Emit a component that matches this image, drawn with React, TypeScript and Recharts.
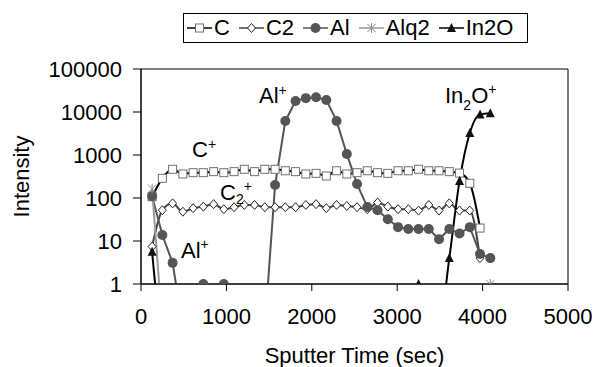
import { LineChart, Line, XAxis, YAxis, ReferenceArea, Label } from 'recharts';

// sputter time of each scan (sec)
const times = [
  130, 250, 370, 490, 610, 730, 850, 970, 1090, 1210, 1330, 1450, 1570, 1690, 1810, 1930, 2050,
  2170, 2290, 2410, 2530, 2650, 2770, 2890, 3010, 3130, 3250, 3370, 3490, 3610, 3730, 3850, 3970, 4090
];

// 0.1 = below detection (off the bottom of the log axis)
const cVals = [
  107, 287, 465, 362, 388, 388, 410, 388, 410, 465, 410, 465, 465, 430, 410, 362, 374,
  325, 430, 362, 388, 430, 388, 374, 430, 430, 465, 430, 430, 410, 380, 220, 20, null
];
const c2Vals = [
  7.4, 52, 75, 48, 58, 63, 72, 55, 61, 69, 69, 61, 61, 61, 61, 69, 72,
  58, 69, 65, 61, 55, 78, 63, 55, 55, 51, 69, 51, 75, 51, 51, 4, null
];
const alVals = [
  110, 13.8, 3.1, 0.1, 0.1, 1, 0.1, 1, 0.1, 0.1, 0.1, 0.1, 200, 6200, 18000, 21000, 22000,
  19000, 6200, 1050, 211, 62, 52, 32, 21, 19, 19, 19, 11, 19, 15, 21, 5, 4
];
const alq2Vals = [
  165, 0.1, 0.1, 0.1, 0.1, 0.1, 0.1, 0.1, 0.1, 0.1, 0.1, 0.1, 0.1, 0.1, 0.1, 0.1, 0.1,
  0.1, 0.1, 0.1, 0.1, 0.1, 0.1, 0.1, 0.1, 0.1, 0.1, 0.1, 0.1, 0.1, 0.1, 0.1, 0.1, 1
];
const in2oVals = [
  5.6, 0.1, 0.1, 0.1, 0.1, 0.1, 0.1, 0.1, 0.1, 0.1, 0.1, 0.1, 0.1, 0.1, 0.1, 0.1, 0.1,
  0.1, 0.1, 0.1, 0.1, 0.1, 0.1, 0.1, 0.1, 0.1, 1, 0.1, 0.1, 4, 250, 3240, 8800, 9300
];

const xTicks = [0, 1000, 2000, 3000, 4000, 5000];
const yTicks = [1, 10, 100, 1000, 10000, 100000];

const data = times.map((t, i) => ({
  t,
  C: cVals[i],
  C2: c2Vals[i],
  Al: alVals[i],
  Alq2: alq2Vals[i],
  In2O: in2oVals[i]
}));

const FONT = '"Liberation Sans", Arial, sans-serif';

type Mark = 'square' | 'diamond' | 'circle' | 'star' | 'triangle';

function Marker({ kind, cx, cy }: { kind: Mark; cx: number; cy: number }) {
  if (kind === 'square')
    return <rect x={cx - 4} y={cy - 4} width={8} height={8} fill="#fff" stroke="#707070" strokeWidth={1} />;
  if (kind === 'diamond')
    return (
      <polygon
        points={`${cx},${cy - 4.5} ${cx + 4},${cy} ${cx},${cy + 4.5} ${cx - 4},${cy}`}
        fill="#fff"
        stroke="#222"
        strokeWidth={1}
      />
    );
  if (kind === 'circle') return <circle cx={cx} cy={cy} r={5} fill="#555" />;
  if (kind === 'triangle')
    return <polygon points={`${cx},${cy - 5} ${cx + 4.5},${cy + 4} ${cx - 4.5},${cy + 4}`} fill="#111" />;
  return (
    <g stroke="#888" strokeWidth={1}>
      <line x1={cx - 4} y1={cy - 4} x2={cx + 4} y2={cy + 4} />
      <line x1={cx - 4} y1={cy + 4} x2={cx + 4} y2={cy - 4} />
      <line x1={cx} y1={cy - 5} x2={cx} y2={cy + 5} />
    </g>
  );
}

const dotFor = (kind: Mark) => (p: any) => {
  if (p.cx == null || p.cy == null || p.value == null) return <g key={p.index} />;
  return (
    <g key={p.index}>
      <Marker kind={kind} cx={p.cx} cy={p.cy} />
    </g>
  );
};

const series: { key: string; color: string; mark: Mark; smooth: boolean }[] = [
  { key: 'C', color: '#000', mark: 'square', smooth: true },
  { key: 'C2', color: '#444', mark: 'diamond', smooth: true },
  { key: 'Al', color: '#555', mark: 'circle', smooth: false },
  { key: 'Alq2', color: '#999', mark: 'star', smooth: false },
  { key: 'In2O', color: '#000', mark: 'triangle', smooth: true }
];

function ChartLegend() {
  return (
    <div
      style={{
        position: 'absolute',
        left: 183,
        top: 13,
        width: 340,
        height: 28,
        border: '1px solid #000',
        background: '#fff',
        display: 'flex',
        alignItems: 'center',
        fontFamily: FONT,
        fontSize: 22,
        lineHeight: '28px',
        paddingLeft: 3,
        boxSizing: 'content-box'
      }}
    >
      {series.map((s) => (
        <div key={s.key} style={{ display: 'flex', alignItems: 'center', marginRight: 9 }}>
          <svg width={25} height={14} style={{ marginRight: 2 }}>
            <line x1={0} y1={7} x2={25} y2={7} stroke={s.color} strokeWidth={1.5} />
            <Marker kind={s.mark} cx={12.5} cy={7} />
          </svg>
          <span>{s.key}</span>
        </div>
      ))}
    </div>
  );
}

function Annotations() {
  return (
    <svg
      width={595}
      height={367}
      style={{ position: 'absolute', left: 0, top: 0, pointerEvents: 'none' }}
      fontFamily={FONT}
      fontSize={22}
      fill="#000"
    >
      <text x={259} y={103}>
        Al<tspan fontSize={14} dy={-8}>+</tspan>
      </text>
      <text x={192} y={157}>
        C<tspan fontSize={14} dy={-8}>+</tspan>
      </text>
      <text x={220} y={200}>
        C<tspan fontSize={14} dy={4}>2</tspan>
        <tspan fontSize={14} dy={-13}>+</tspan>
      </text>
      <text x={181} y={258}>
        Al<tspan fontSize={14} dy={-9}>+</tspan>
      </text>
      <text x={445} y={103}>
        In<tspan fontSize={14} dy={7}>2</tspan>
        <tspan dy={-7}>O</tspan>
        <tspan fontSize={14} dy={-9}>+</tspan>
      </text>
    </svg>
  );
}

export default function App() {
  return (
    <div style={{ position: 'absolute', left: 0, top: 0, width: 595, height: 367, background: '#fff' }}>
      <LineChart
        width={595}
        height={367}
        data={data}
        margin={{ top: 69, right: 27, bottom: 0, left: 0 }}
        style={{ fontFamily: FONT }}
      >
        <XAxis
          dataKey="t"
          type="number"
          domain={[0, 5000]}
          ticks={xTicks}
          height={83}
          tick={{ fill: '#000', fontSize: 22 }}
          tickSize={7}
          tickMargin={17}
          axisLine={{ stroke: '#000' }}
          tickLine={{ stroke: '#000' }}
        >
          <Label value="Sputter Time (sec)" position="insideBottom" offset={4} fill="#000" fontSize={22} />
        </XAxis>
        <YAxis
          scale="log"
          domain={[1, 100000]}
          ticks={yTicks}
          allowDataOverflow
          width={141}
          tick={{ fill: '#000', fontSize: 22 }}
          tickSize={8}
          tickMargin={11}
          axisLine={{ stroke: '#000' }}
          tickLine={{ stroke: '#000' }}
        >
          <Label
            value="Intensity"
            angle={-90}
            position="insideLeft"
            offset={21}
            fill="#000"
            fontSize={22}
            style={{ textAnchor: 'middle' }}
          />
        </YAxis>
        <ReferenceArea x1={0} x2={5000} y1={1} y2={100000} fill="none" stroke="#000" strokeWidth={1} />
        {series.map((s) => (
          <Line
            key={s.key}
            dataKey={s.key}
            type={s.smooth ? 'monotone' : 'linear'}
            stroke={s.color}
            strokeWidth={2}
            dot={dotFor(s.mark)}
            activeDot={false}
            isAnimationActive={false}
            connectNulls={false}
          />
        ))}
      </LineChart>
      <ChartLegend />
      <Annotations />
    </div>
  );
}
